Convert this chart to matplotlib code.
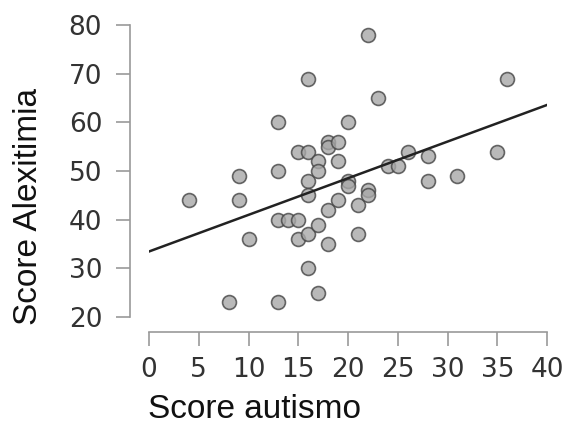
import numpy as np
import matplotlib
matplotlib.use("Agg")
import matplotlib.pyplot as plt

# scores
autismo = [4, 8, 9, 9, 10, 13, 13, 13, 13, 14, 15, 15, 15, 16, 16, 16, 16, 16, 16,
           17, 17, 17, 17, 18, 18, 18, 18, 19, 19, 19, 20, 20, 20, 21, 21, 22, 22, 22,
           23, 24, 25, 26, 28, 28, 31, 35, 36]
alexitimia = [44, 23, 49, 44, 36, 60, 50, 40, 23, 40, 54, 40, 36, 69, 54, 48, 45, 37, 30,
              52, 50, 39, 25, 56, 55, 42, 35, 56, 52, 44, 60, 48, 47, 43, 37, 78, 46, 45,
              65, 51, 51, 54, 53, 48, 49, 54, 69]

x_ticks = [0, 5, 10, 15, 20, 25, 30, 35, 40]
y_ticks = [20, 30, 40, 50, 60, 70, 80]

fig = plt.figure(figsize=(5.67, 4.34), dpi=100)
ax = fig.add_axes([149/567, 1 - 317/434, 398/567, 292/434])

ax.scatter(autismo, alexitimia, s=100, facecolor="#a8a8a8", edgecolor="#444444",
           linewidth=1.2, alpha=0.8, zorder=3, clip_on=False)

# linear fit
b, a = np.polyfit(autismo, alexitimia, 1)
xs = np.array([0, 40])
ax.plot(xs, a + b * xs, color="#222222", linewidth=1.8, zorder=4)

ax.set_xlim(0, 40)
ax.set_ylim(20, 80)
ax.set_xticks(x_ticks)
ax.set_yticks(y_ticks)

for side in ["top", "right"]:
    ax.spines[side].set_visible(False)
ax.spines["left"].set_position(("outward", 13.7))
ax.spines["bottom"].set_position(("outward", 10.8))
for side in ["left", "bottom"]:
    ax.spines[side].set_color("#999999")
    ax.spines[side].set_linewidth(1.2)

ax.tick_params(axis="both", colors="#999999", width=1.2, length=10,
               labelcolor="#333333", labelsize=19)
ax.tick_params(axis="y", pad=10)
ax.tick_params(axis="x", pad=8)

ax.set_xlabel("Score autismo", fontsize=24, family="Liberation Sans", color="#111111")
ax.set_ylabel("Score Alexitimia", fontsize=24, family="Liberation Sans", color="#111111")
ax.xaxis.set_label_coords(0.264, -0.318)
ax.yaxis.set_label_coords(-0.304, 0.377)
ax.xaxis.label.set_va("center")
ax.yaxis.label.set_va("center")

fig.savefig("out.png", dpi=100)
